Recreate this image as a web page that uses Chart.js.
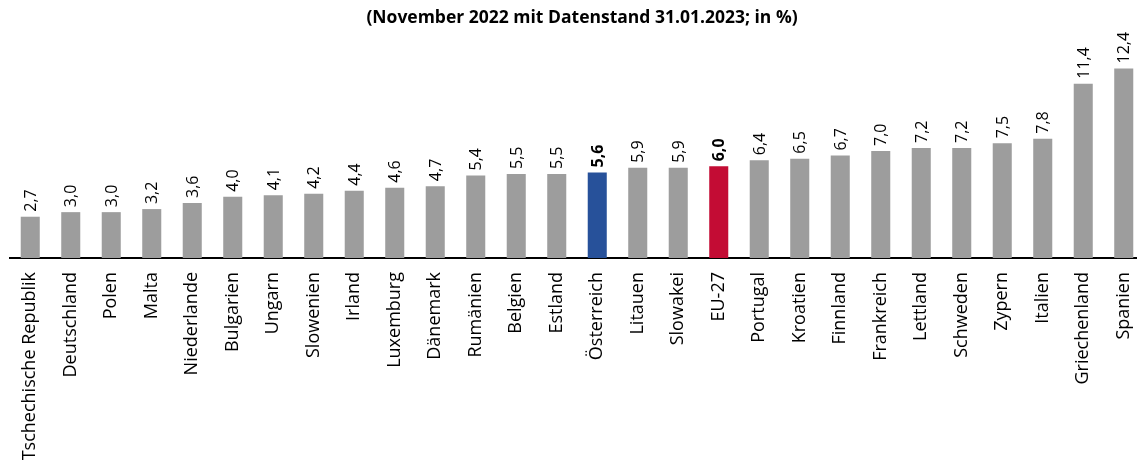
<!DOCTYPE html>
<html>
<head>
<meta charset="utf-8">
<script src="https://cdn.jsdelivr.net/npm/chart.js@4/dist/chart.umd.min.js"></script>
<style>
    html, body { margin: 0; padding: 0; background: #fff; overflow: hidden; width: 1137px; height: 466px; }
    #wrap { width: 1137px; height: 466px; overflow: hidden; position: relative; }
    #chart { position: absolute; left: 0; top: 0; }
</style>
</head>
<body>
<div id="wrap"><canvas id="chart" width="1144" height="466"></canvas></div>
<script>
    const titleText = '(November 2022 mit Datenstand 31.01.2023; in %)';

    const countries = [
        'Tschechische Republik', 'Deutschland', 'Polen', 'Malta', 'Niederlande',
        'Bulgarien', 'Ungarn', 'Slowenien', 'Irland', 'Luxemburg', 'Dänemark',
        'Rumänien', 'Belgien', 'Estland', 'Österreich', 'Litauen', 'Slowakei',
        'EU-27', 'Portugal', 'Kroatien', 'Finnland', 'Frankreich', 'Lettland',
        'Schweden', 'Zypern', 'Italien', 'Griechenland', 'Spanien'
    ];

    const rates = [
        2.7, 3.0, 3.0, 3.2, 3.6, 4.0, 4.1, 4.2, 4.4, 4.6, 4.7,
        5.4, 5.5, 5.5, 5.6, 5.9, 5.9, 6.0, 6.4, 6.5, 6.7, 7.0,
        7.2, 7.2, 7.5, 7.8, 11.4, 12.4
    ];

    const highlight = {
        'Österreich': '#27519a',
        'EU-27': '#c30c34'
    };

    const FONT = "'Open Sans', 'DejaVu Sans', sans-serif";

    const barColors = countries.map(c => highlight[c] || '#9d9d9d');

    // value labels above bars + title
    const labelPlugin = {
        id: 'valueLabels',
        afterDatasetsDraw(chart) {
            const ctx = chart.ctx;
            const meta = chart.getDatasetMeta(0);
            ctx.save();
            ctx.fillStyle = '#000';
            meta.data.forEach((bar, i) => {
                const bold = highlight[countries[i]] ? 'bold ' : '';
                ctx.save();
                ctx.translate(bar.x, bar.y - 5);
                ctx.rotate(-Math.PI / 2);
                ctx.font = bold + '16px ' + FONT;
                ctx.textAlign = 'left';
                ctx.textBaseline = 'middle';
                ctx.fillText(rates[i].toFixed(1).replace('.', ','), 0, 1);
                ctx.restore();
            });
            ctx.font = 'bold 17.5px ' + FONT;
            ctx.textAlign = 'center';
            ctx.textBaseline = 'middle';
            ctx.fillText(titleText, 582, 18);
            ctx.restore();
        }
    };

    const ctx = document.getElementById('chart').getContext('2d');

    new Chart(ctx, {
        type: 'bar',
        data: {
            labels: countries,
            datasets: [{
                data: rates,
                backgroundColor: barColors,
                borderWidth: 0,
                barPercentage: 0.47,
                categoryPercentage: 1.0
            }]
        },
        options: {
            responsive: false,
            animation: false,
            layout: { padding: { top: 44, left: 10, right: 0, bottom: 0 } },
            plugins: {
                legend: { display: false },
                title: { display: false },
                tooltip: { enabled: false }
            },
            scales: {
                x: {
                    grid: { display: false, drawTicks: false },
                    border: { display: true, color: '#000', width: 2 },
                    ticks: {
                        color: '#000',
                        font: { family: FONT, size: 18 },
                        maxRotation: 90,
                        minRotation: 90,
                        autoSkip: false,
                        padding: 14
                    },
                    afterFit(scale) {
                        scale.height = 208;
                        scale.paddingLeft = 0;
                        scale.paddingRight = 0;
                    }
                },
                y: {
                    display: false,
                    min: 0,
                    max: 14
                }
            }
        },
        plugins: [labelPlugin]
    });
</script>
</body>
</html>
